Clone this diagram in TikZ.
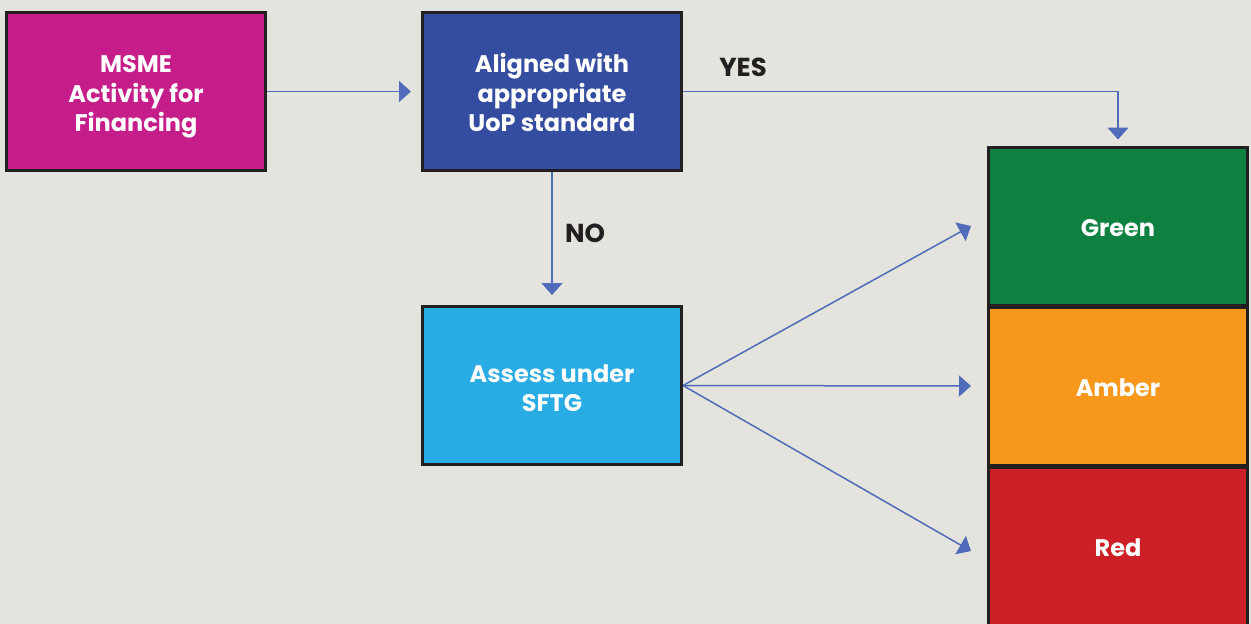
\documentclass[tikz,border=0pt]{standalone}
\usepackage{fontspec}
\setmainfont{Poppins}
\usetikzlibrary{arrows.meta}
\definecolor{bg}{RGB}{228,227,222}
\definecolor{cmag}{RGB}{197,29,138}
\definecolor{cnavy}{RGB}{52,77,160}
\definecolor{csky}{RGB}{41,172,227}
\definecolor{cgreen}{RGB}{14,128,64}
\definecolor{camber}{RGB}{247,152,29}
\definecolor{cred}{RGB}{204,31,38}
\definecolor{carrow}{RGB}{79,107,186}
\definecolor{ctext}{RGB}{35,31,32}
\newcommand{\tdn}[1]{\rule{0pt}{#1}}
\newcommand{\tdp}{\rule[-7pt]{0pt}{7pt}}
\begin{document}
\begin{tikzpicture}[x=1pt,y=-1pt,
  box/.style={draw=ctext,line width=3pt,minimum width=259pt,minimum height=158pt,
    inner sep=0pt,text=white,align=center,font=\fontsize{24}{29.5}\selectfont\bfseries},
  conn/.style={draw=carrow,line width=1.5pt,-{Triangle[length=12pt,width=21pt]}},
  lbl/.style={text=ctext,font=\fontsize{26}{30}\selectfont\bfseries}]
\fill[bg] (0,0) rectangle (1251,624);
\useasboundingbox (0,0) rectangle (1251,624);
\node[box,fill=cmag] (msme) at (136,91.5) {\tdn{28pt}MSME\\Activity for\\Financing\tdp};
\node[box,fill=cnavy] (aligned) at (552,91.5) {\tdn{28pt}Aligned with\\appropriate\\UoP standard\tdp};
\node[box,fill=csky] (assess) at (552,385.5) {\tdn{30pt}Assess under\\SFTG\tdp};
\node[box,fill=cgreen] (green) at (1118,226) {\tdn{28pt}Green\tdp};
\node[box,fill=camber] (amber) at (1118,386) {\tdn{28pt}Amber\tdp};
\node[box,fill=cred] (red) at (1118,546) {\tdn{28pt}Red\tdp};
\coordinate (gtip) at (971,226);
\coordinate (atip) at (971,386);
\coordinate (rtip) at (971,551);
\draw[conn,shorten >=10pt] (msme) -- (aligned);
\draw[conn,shorten >=10pt] (aligned) -- (assess);
\draw[conn,shorten >=6pt] (aligned.east) -| (green.north);
\draw[conn] (assess.east) -- (gtip);
\draw[conn] (assess.east) -- (atip);
\draw[conn] (assess.east) -- (rtip);
\node[lbl] (yes) at (743,67) {YES};
\node[lbl] (no) at (585,233) {NO};
\end{tikzpicture}
\end{document}
